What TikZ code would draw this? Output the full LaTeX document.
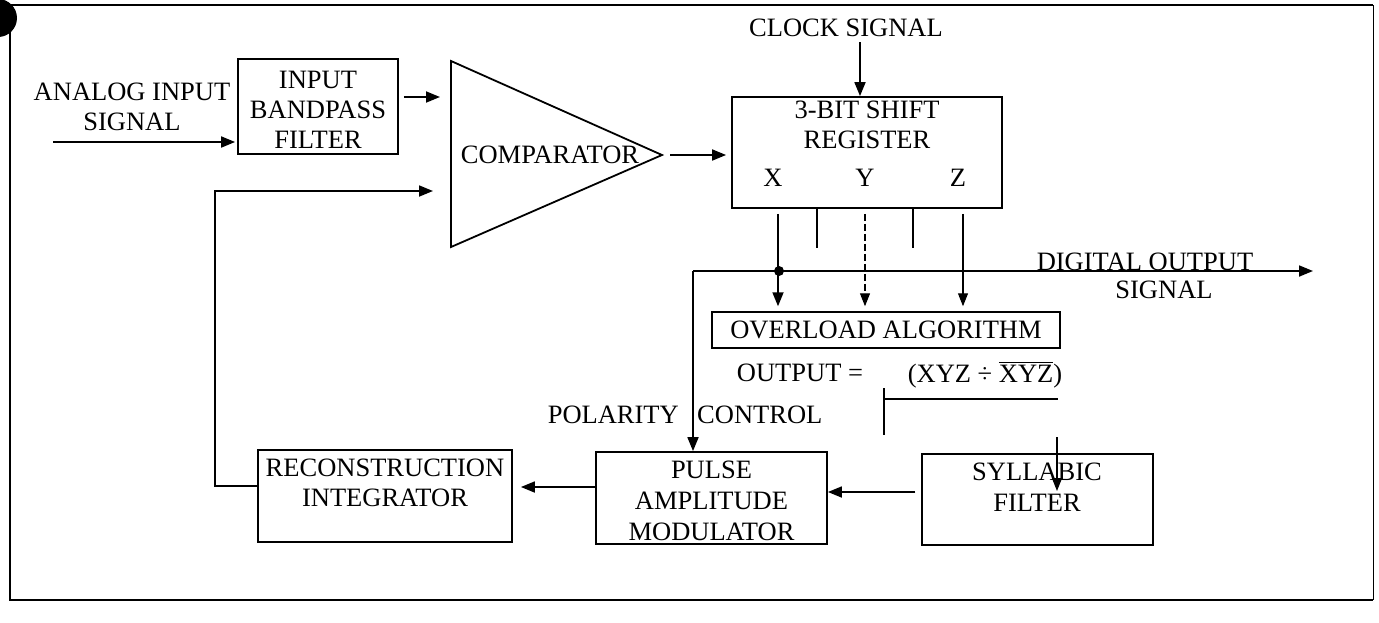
\documentclass[tikz,border=0pt]{standalone}
\usepackage{fontspec}
\setmainfont{Liberation Serif}
\usetikzlibrary{arrows.meta}
\newcommand{\myol}[1]{{\setbox0\hbox{#1}\rlap{\raisebox{\dimexpr\ht0+2.5pt\relax}{\rule{\wd0}{1.4pt}}}\box0}}
\begin{document}
\begin{tikzpicture}[x=1pt,y=-1pt,
  txt/.style={font=\fontsize{26.5}{30}\selectfont, inner sep=0pt, align=center},
  txtb/.style={font=\fontsize{26.5}{31}\selectfont, inner sep=0pt, align=center},
  blk/.style={draw, line width=1.8pt, inner sep=0pt},
  arr/.style={line width=1.8pt, -{Triangle[length=14pt,width=11pt]}},
  tarr/.style={line width=1.1pt, -{Triangle[length=13pt,width=10pt]}},
  ln/.style={line width=1.8pt, line join=miter},
  bar/.style={line width=2.6pt}]
\useasboundingbox (0,0) rectangle (1379,622);
% frame
\draw[line width=2.5pt] (1373,5) -- (10,5) -- (10,600) -- (1373,600);
\draw[line width=1pt] (1373,5) -- (1373,600);
\begin{scope}
  \clip (0,0) rectangle (1379,622);
  \fill (-2,18) circle (19pt);
\end{scope}

% blocks
\node[blk, minimum width=160pt, minimum height=95pt] (ibf) at (318,106.5) {};
\node[txt] (ibft) at (318,110) {INPUT\\BANDPASS\\FILTER};

\coordinate (ca) at (451,61);
\coordinate (cb) at (451,247);
\coordinate (cc) at (662,155);
\draw[ln] (ca) -- (cc) -- (cb) -- cycle;
\node[txt] (comp) at (550,155) {COMPARATOR};

\node[blk, minimum width=270pt, minimum height=111pt] (sr) at (867,152.5) {};
\node[txt] (srt) at (867,124.5) {3-BIT SHIFT\\REGISTER};
\node[txt] (lx) at (773,178) {X};
\node[txt] (ly) at (865,178) {Y};
\node[txt] (lz) at (958,178) {Z};

\node[blk, txt, line width=1.5pt, minimum width=348pt, minimum height=36pt] (oa) at (886,330) {OVERLOAD ALGORITHM};

\node[blk, minimum width=231pt, minimum height=92pt] (pam) at (711.5,498) {};
\node[txtb] (pamt) at (711.5,501) {PULSE\\AMPLITUDE\\MODULATOR};

\node[blk, line width=1.5pt, minimum width=231pt, minimum height=91pt] (sf) at (1037.5,499.5) {};
\node[txtb] (sft) at (1037,487.5) {SYLLABIC\\FILTER};

\node[blk, minimum width=254pt, minimum height=92pt] (ri) at (385,496) {};
\node[txt] (rit) at (385,483) {RECONSTRUCTION\\INTEGRATOR};

% labels
\node[txt] (ain) at (132,107) {ANALOG INPUT\\SIGNAL};
\node[txt] (clk) at (846,28) {CLOCK SIGNAL};
\node[txt] (dig1) at (1145,262) {DIGITAL OUTPUT};
\node[txt] (dig2) at (1164,290) {SIGNAL};
\node[txt] (outeq) at (800,373) {OUTPUT =};
\node[txt] (form) at (985,375) {(XYZ ÷ \myol{XYZ})};
\node[txt, anchor=east] (pol) at (679,415) {POLARITY};
\node[txt, anchor=west] (ctl) at (697,415) {CONTROL};

% connectors
\coordinate (ainS) at (53,142);
\draw[arr, shorten >=2pt] (ainS) -- (ainS -| ibf.west);
\coordinate (ci1) at (440,97);
\draw[arr, shorten <=5pt] (ibf.east |- ci1) -- (ci1);
\draw[arr, shorten <=8pt, shorten >=5pt] (cc) -- (cc -| sr.west);
\coordinate (clkx) at (860,0);
\draw[arr, shorten <=5pt] (clk.south -| clkx) -- (sr.north -| clkx);

\coordinate (xc) at (778,0);
\coordinate (yc) at (865,0);
\coordinate (zc) at (963,0);
\draw[arr, shorten <=5pt, shorten >=5pt] (sr.south -| xc) -- (oa.north -| xc);
\draw[tarr, dash pattern=on 7pt off 3pt, shorten <=5pt, shorten >=5pt] (sr.south -| yc) -- (oa.north -| yc);
\draw[tarr, shorten <=5pt, shorten >=5pt] (sr.south -| zc) -- (oa.north -| zc);
\draw[bar] (sr.south -| 817,0) -- ++(0,39);
\draw[bar] (sr.south -| 913,0) -- ++(0,39);

\coordinate (corner) at (693,271);
\coordinate (dout) at (1313,271);
\fill (779,271) circle (5pt);
\draw[arr] (corner) -- (dout);
\draw[arr] (corner) -- (corner |- pam.north);

\coordinate (brk) at (884,388);
\draw[bar] (brk) -- ++(0,47);
\draw[line width=1.3pt] (884,399) -- (1058,399);
\coordinate (sfin) at (1057,437);
\draw[tarr] (sfin) -- (1057,491);

\coordinate (fb) at (0,492);
\draw[arr, shorten <=6pt] (sf.west |- fb) -- (pam.east |- fb);
\coordinate (pr) at (0,487);
\draw[arr, shorten >=8pt] (pam.west |- pr) -- (ri.east |- pr);
\coordinate (fbk) at (215,191);
\coordinate (cin2) at (433,191);
\draw[arr] (ri.west |- 0,486) -| (fbk) -- (cin2);
\end{tikzpicture}
\end{document}
